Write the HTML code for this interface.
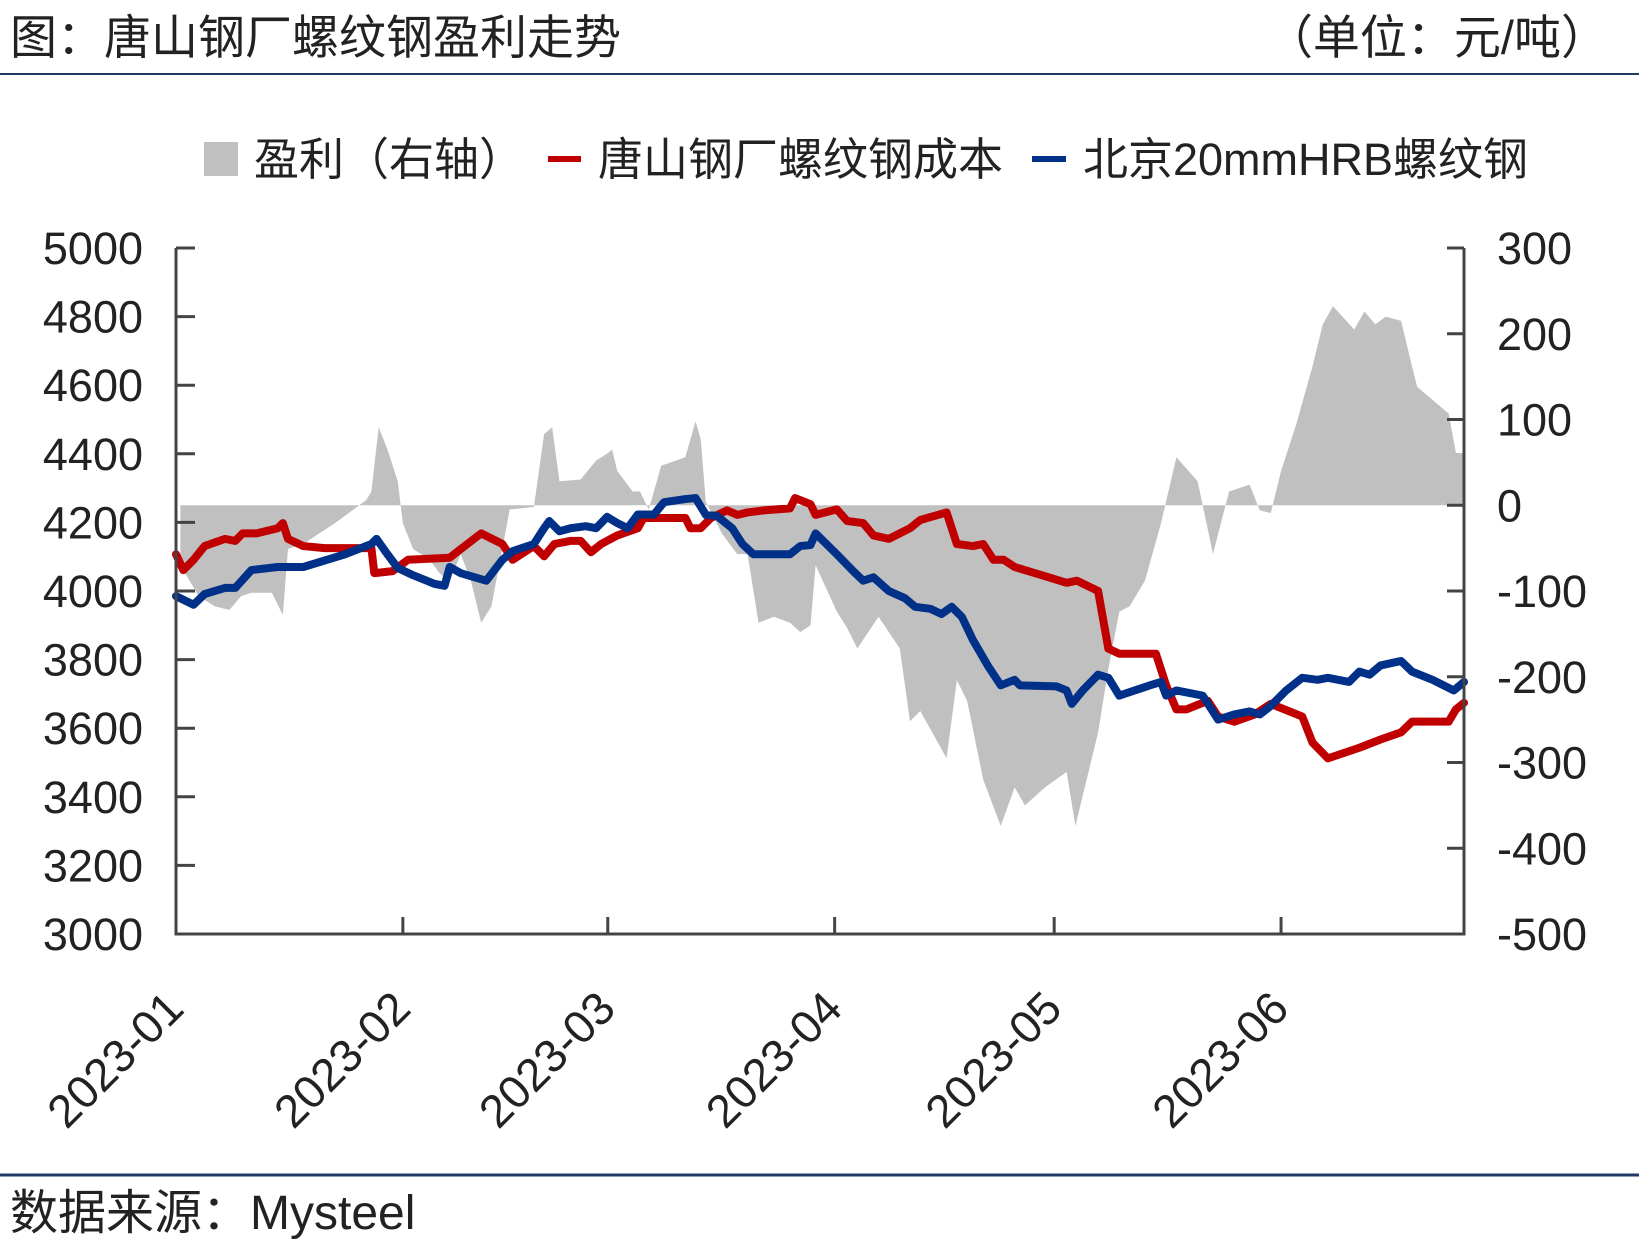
<!DOCTYPE html>
<html><head><meta charset="utf-8">
<style>
html,body{margin:0;padding:0;background:#fff;}
svg{display:block;font-family:"Liberation Sans","Noto Sans CJK SC",sans-serif;}
</style></head>
<body>
<svg id="chart" width="1639" height="1251" viewBox="0 0 1639 1251" xmlns="http://www.w3.org/2000/svg">
<text x="10" y="54" font-size="47" fill="#222">图：唐山钢厂螺纹钢盈利走势</text>
<text x="1608" y="54" font-size="47" fill="#222" text-anchor="end">（单位：元/吨）</text>
<line x1="0" y1="74" x2="1639" y2="74" stroke="#1f3864" stroke-width="2"/>
<g>
<rect x="204" y="142" width="34" height="34" fill="#c0c0c0"/>
<text x="254" y="175" font-size="45" fill="#222">盈利（右轴）</text>
<line x1="548" y1="159" x2="581" y2="159" stroke="#c00000" stroke-width="6"/>
<text x="598" y="175" font-size="45" fill="#222">唐山钢厂螺纹钢成本</text>
<line x1="1032" y1="159" x2="1066" y2="159" stroke="#003087" stroke-width="6"/>
<text x="1083" y="175" font-size="45" fill="#222">北京20mmHRB螺纹钢</text>
</g>
<g id="plot"></g>
<line x1="0" y1="1175" x2="1639" y2="1175" stroke="#1f3864" stroke-width="3"/>
<text x="10" y="1229" font-size="48" fill="#222">数据来源：Mysteel</text>
</svg>
<script>
// day offsets from 2023-01-01
const costDays=[0,1,2.4,3.9,6.7,8.1,9.1,11,13.9,14.6,15.3,17.4,20.3,26.7,27.1,29.6,31.7,37.4,38.9,41.7,44.6,46,48.9,50.3,51.7,53.9,55.3,56.7,58.1,60.3,63.1,63.9,69.6,70.3,71.7,73.1,75.3,76.7,78.1,80.3,83.9,84.6,86.7,87.4,90.3,91.7,93.9,95.3,97.4,100.3,101.7,105.3,106.7,108.9,110.3,111.7,113.1,114.6,117.4,121.7,123.1,126,127.4,128.9,133.9,135.3,136.7,138.1,141,142.4,144.6,147.4,149.6,153.9,155.3,157.4,161.7,164.6,167.4,168.9,173.9,174.9,176];
const costValues=[4107,4061,4091,4131,4152,4146,4168,4168,4183,4198,4152,4131,4125,4125,4052,4058,4091,4097,4122,4168,4137,4091,4131,4101,4137,4146,4146,4113,4137,4162,4183,4213,4213,4183,4183,4213,4235,4222,4229,4235,4241,4271,4253,4222,4238,4204,4198,4162,4152,4183,4207,4229,4137,4131,4137,4091,4091,4070,4052,4024,4030,4000,3832,3817,3817,3725,3655,3655,3680,3634,3619,3640,3671,3634,3558,3512,3543,3567,3588,3619,3619,3655,3674];
const priceDays=[0,2.4,3.9,6.7,8.1,10.3,13.9,17.4,23.1,26.7,27.4,28.9,30.3,32.4,35.3,36.7,37.4,38.9,42.4,44.6,46,48.9,50.3,51,52.4,53.9,56,57.4,58.9,60.3,61.7,63.1,65.3,66.7,69.6,71,72.4,73.9,76,77.4,78.9,80.3,83.9,85.3,86.7,87.4,90.3,92.4,93.9,95.3,97.4,99.6,101,103.1,104.6,106,107.4,108.9,111,112.7,114.6,115.3,120.3,121.7,122.4,123.9,126,127.4,128.9,131,133.1,134.6,135.3,136.7,140.3,142.4,144.6,146.7,148.1,149.6,151.7,153.9,156,157.4,160.3,161.7,163.1,164.6,167.4,168.9,171.7,174.6,176];
const priceValues=[3985,3960,3991,4009,4009,4061,4070,4070,4107,4137,4152,4107,4067,4046,4021,4015,4070,4052,4030,4091,4116,4137,4183,4204,4174,4183,4189,4183,4216,4198,4183,4223,4223,4259,4268,4271,4222,4219,4183,4137,4107,4107,4107,4131,4134,4168,4107,4061,4030,4040,4000,3979,3954,3948,3933,3954,3924,3857,3780,3725,3741,3725,3722,3710,3671,3710,3756,3747,3695,3710,3725,3735,3695,3710,3695,3625,3640,3649,3640,3665,3710,3747,3741,3747,3735,3765,3756,3783,3796,3765,3741,3710,3735];
const profitDays=[0.6,3.1,5.3,7.3,8.9,10.3,13.1,14.6,15.3,17.4,21.7,26,26.7,27.7,28.9,30.3,31,32.4,34.6,36,37.4,38.9,40.3,41.7,43.1,45.6,48.9,50.3,51.4,52.4,55.3,57.4,58.9,59.6,60.3,62.4,63.4,64.6,66.3,69.6,71,71.7,72.4,74.6,76.7,78.1,79.6,81.7,83.9,85.3,86.7,87.4,90.3,91.7,93.1,96,98.9,100.3,101.7,105.3,106.7,108.1,110.3,112.7,114.6,116,118.9,121.7,122.9,126,127.4,128.9,130.3,132.4,134.6,136.7,139.6,141.7,143.9,146.7,148.1,149.6,151,153.1,155.3,156.7,158.1,161,162.4,163.9,165.3,167.4,168.9,169.6,173.9,174.9,176];
const profitValues=[-70,-106,-118,-122,-106,-102,-102,-128,-51,-45,-21,6,16,91,65,28,-21,-51,-63,-79,-89,-57,-88,-137,-118,-5,-2,83,91,28,30,52,60,65,40,16,16,-5,46,56,98,77,4,-33,-57,-57,-137,-130,-137,-148,-140,-70,-124,-143,-167,-130,-167,-252,-240,-295,-204,-228,-320,-374,-329,-350,-328,-311,-374,-265,-191,-124,-118,-88,-21,56,28,-57,16,24,-6,-9,40,95,162,211,232,205,226,211,220,215,162,138,107,61,61];
const leftTicks=[5000,4800,4600,4400,4200,4000,3800,3600,3400,3200,3000];
const rightTicks=[300,200,100,0,-100,-200,-300,-400,-500];
const monthLabels=["2023-01","2023-02","2023-03","2023-04","2023-05","2023-06"];
const monthDays=[0,31,59,90,120,151];

const X0=176,X1=1464,Y0=248,Y1=934,DMAX=176;
const xs=d=>X0+d/DMAX*(X1-X0);
const yl=v=>Y0+(5000-v)/2000*(Y1-Y0);
const yr=v=>Y0+(300-v)/800*(Y1-Y0);
const NS="http://www.w3.org/2000/svg";
const plot=document.getElementById('plot');
function mk(tag,attrs){const e=document.createElementNS(NS,tag);for(const k in attrs)e.setAttribute(k,attrs[k]);return e;}

let d=`M${xs(profitDays[0])},${yr(0)}`;
profitDays.forEach((t,i)=>{d+=` L${xs(t)},${yr(profitValues[i])}`;});
d+=` L${xs(profitDays[profitDays.length-1])},${yr(0)} Z`;
const area=mk('path',{d:d,fill:'#c0c0c0'});


plot.appendChild(area);

function line(days,vals,color){
  let p='';days.forEach((t,i)=>{p+=(i?' L':'M')+xs(t)+','+yl(vals[i]);});
  return mk('path',{d:p,fill:'none',stroke:color,'stroke-width':8,'stroke-linejoin':'round','stroke-linecap':'round'});
}
const cost=line(costDays,costValues,'#c00000');


plot.appendChild(cost);
const price=line(priceDays,priceValues,'#003087');


plot.appendChild(price);

const axes=mk('path',{d:`M${X0},${Y0} L${X0},${Y1} L${X1},${Y1} L${X1},${Y0}`,fill:'none',stroke:'#444','stroke-width':3});


plot.appendChild(axes);

leftTicks.forEach(v=>{
  const y=yl(v);
  const t=mk('line',{x1:X0,y1:y,x2:X0+19,y2:y,stroke:'#444','stroke-width':3});
  
  
  plot.appendChild(t);
  const l=mk('text',{x:143,y:y+16,'font-size':45,fill:'#222','text-anchor':'end'});
  
  
  l.textContent=v;plot.appendChild(l);
});
rightTicks.forEach(v=>{
  const y=yr(v);
  const t=mk('line',{x1:X1-17,y1:y,x2:X1,y2:y,stroke:'#444','stroke-width':3});
  
  
  plot.appendChild(t);
  const l=mk('text',{x:1497,y:y+16,'font-size':45,fill:'#222'});
  
  
  l.textContent=v;plot.appendChild(l);
});
monthLabels.forEach((m,i)=>{
  const x=xs(monthDays[i]);
  const t=mk('line',{x1:x,y1:Y1-17,x2:x,y2:Y1,stroke:'#444','stroke-width':3});
  
  
  plot.appendChild(t);
  const l=mk('text',{'font-size':46,fill:'#222','text-anchor':'end',transform:`translate(${x+10},${Y1+77}) rotate(-45)`});
  
  
  l.textContent=m;plot.appendChild(l);
});
</script>
</body></html>
